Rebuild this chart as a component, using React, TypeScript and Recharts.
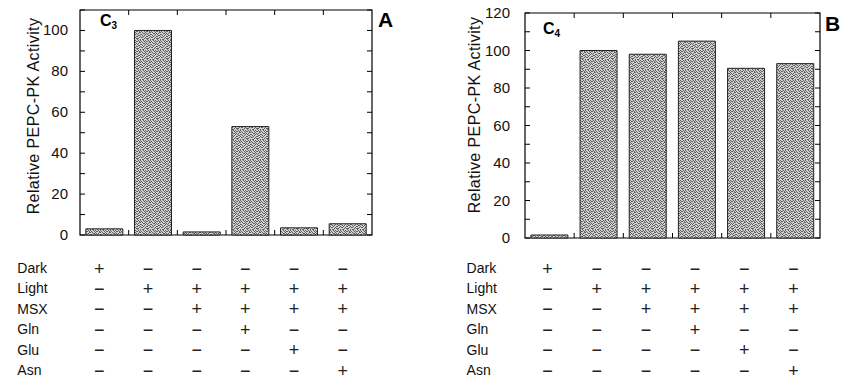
import React from 'react';
import { BarChart, Bar, XAxis, YAxis, ReferenceArea } from 'recharts';

const treatments = ['Dark', 'Light', 'Light+MSX', 'Light+MSX+Gln', 'Light+MSX+Glu', 'Light+MSX+Asn'];
const c3Activity = [3, 100, 1.5, 53, 3.5, 5.5];
const c4Activity = [1.6, 100, 98, 105, 90.5, 93];

const rowLabels = ['Dark', 'Light', 'MSX', 'Gln', 'Glu', 'Asn'];
const darkRow = ['+', '-', '-', '-', '-', '-'];
const lightRow = ['-', '+', '+', '+', '+', '+'];
const msxRow = ['-', '-', '+', '+', '+', '+'];
const glnRow = ['-', '-', '-', '+', '-', '-'];
const gluRow = ['-', '-', '-', '-', '+', '-'];
const asnRow = ['-', '-', '-', '-', '-', '+'];
const tableRows = [darkRow, lightRow, msxRow, glnRow, gluRow, asnRow];

// every 10 gets a tick mark, every 20 a label
const c3Ticks = [0, 10, 20, 30, 40, 50, 60, 70, 80, 90, 100, 110];
const c3LabelMax = 100;
const c4Ticks = [0, 10, 20, 30, 40, 50, 60, 70, 80, 90, 100, 110, 120];
const c4LabelMax = 120;

const FONT = '"Liberation Sans", Arial, Helvetica, sans-serif';
const ROW_GAP = 20.4;
const W = 425;
const H = 388;
const XAXIS_H = 150;
const YAXIS_W = 60;
const TICK = 5;

const c3Data = treatments.map((t, i) => ({ name: t, value: c3Activity[i] }));
const c4Data = treatments.map((t, i) => ({ name: t, value: c4Activity[i] }));

// speckle mask for the scanned-looking bar fill
const speckle = [
  '1001010010',
  '0100101101',
  '1010010001',
  '0001101010',
  '1100010100',
  '0010100011',
  '1001001100',
  '0110010001',
  '0000101110',
  '1011000100',
];

const TableTick = (props: any) => {
  const { x, y, payload, top, dx, labelDx, plotH } = props;
  const col = props.index ?? payload.index;
  const half = payload.offset ?? 0;
  return (
    <g>
      {col < tableRows[0].length - 1 && (
        <g stroke="#000" strokeWidth={1}>
          <line x1={x + half} x2={x + half} y1={y} y2={y - TICK} />
          <line x1={x + half} x2={x + half} y1={y - plotH} y2={y - plotH + TICK} />
        </g>
      )}
      {rowLabels.map((r, i) => {
        const cy = y + top + i * ROW_GAP;
        return (
          <g key={r}>
            {col === 0 && (
              <text x={x + labelDx} y={cy + 5} fontSize={14} fill="#111" fontFamily={FONT}>
                {r}
              </text>
            )}
            <text x={x + dx} y={cy + 6.5} fontSize={18} fill="#222" textAnchor="middle" fontFamily={FONT}>
              {tableRows[i][col] === '+' ? '+' : '\u2212'}
            </text>
          </g>
        );
      })}
    </g>
  );
};

const ValueTick = (props: any) => {
  const { x, y, payload, plotW, labelMax, gap } = props;
  const v = payload.value;
  return (
    <g>
      <g stroke="#000" strokeWidth={1}>
        <line x1={x} x2={x + TICK} y1={y} y2={y} />
        <line x1={x + plotW - TICK} x2={x + plotW} y1={y} y2={y} />
      </g>
      {v % 20 === 0 && v <= labelMax && (
        <text x={x - gap} y={y + 5} textAnchor="end" fontSize={15} fill="#111" fontFamily={FONT}>
          {v}
        </text>
      )}
    </g>
  );
};

interface PanelProps {
  data: { name: string; value: number }[];
  max: number;
  ticks: number[];
  labelMax: number;
  margin: { top: number; right: number; bottom: number; left: number };
  tableTop: number;
  symbolDx: number;
  labelDx: number;
  labelGap: number;
  yLabelX: number;
  yLabelY: number;
  sub: string;
  letter: string;
  letterX: number;
  letterY: number;
  speciesX: number;
  speciesY: number;
}

const Panel = (p: PanelProps) => {
  const plotW = W - p.margin.left - p.margin.right - YAXIS_W;
  const plotH = H - p.margin.top - p.margin.bottom - XAXIS_H;
  return (
    <div style={{ position: 'relative', width: W, height: H }}>
      <BarChart width={W} height={H} data={p.data} margin={p.margin} barCategoryGap="12%">
        <XAxis
          dataKey="name"
          height={XAXIS_H}
          tickLine={false}
          tickSize={0}
          tickMargin={0}
          interval={0}
          axisLine={false}
          tick={<TableTick top={p.tableTop} dx={p.symbolDx} labelDx={p.labelDx} plotH={plotH} />}
        />
        <YAxis
          width={YAXIS_W}
          domain={[0, p.max]}
          ticks={p.ticks}
          interval={0}
          tickLine={false}
          tickSize={0}
          tickMargin={0}
          axisLine={false}
          tick={<ValueTick plotW={plotW} labelMax={p.labelMax} gap={p.labelGap} />}
        />
        <ReferenceArea y1={0} y2={p.max} fill="none" stroke="#000" strokeWidth={1.2} />
        <Bar
          dataKey="value"
          fill="url(#stipple)"
          stroke="#222"
          strokeWidth={1}
          isAnimationActive={false}
        />
      </BarChart>
      <div
        style={{
          position: 'absolute',
          left: p.yLabelX,
          top: p.yLabelY,
          transform: 'translate(-50%, -50%) rotate(-90deg)',
          whiteSpace: 'nowrap',
          fontFamily: FONT,
          fontSize: 16,
          letterSpacing: 0.4,
          color: '#111',
        }}
      >
        Relative PEPC-PK Activity
      </div>
      <div
        style={{
          position: 'absolute',
          left: p.speciesX,
          top: p.speciesY,
          fontFamily: FONT,
          fontWeight: 'bold',
          fontSize: 16,
          color: '#000',
        }}
      >
        C<span style={{ fontSize: 10, verticalAlign: -3 }}>{p.sub}</span>
      </div>
      <div
        style={{
          position: 'absolute',
          left: p.letterX,
          top: p.letterY,
          fontFamily: FONT,
          fontWeight: 900,
          fontSize: 21,
          color: '#000',
        }}
      >
        {p.letter}
      </div>
    </div>
  );
};

export default function App() {
  return (
    <div style={{ position: 'absolute', left: 0, top: 0, width: 850, height: 388, background: '#fff' }}>
      <svg width={0} height={0} style={{ position: 'absolute' }}>
        <defs>
          <pattern id="stipple" width={10} height={10} patternUnits="userSpaceOnUse">
            <rect width={10} height={10} fill="#d2d2d2" />
            {speckle.map((row, j) =>
              row.split('').map((c, i) =>
                c === '1' ? <rect key={`${i}-${j}`} x={i} y={j} width={1} height={1} fill="#616161" /> : null
              )
            )}
          </pattern>
        </defs>
      </svg>
      <div style={{ display: 'flex' }}>
        <Panel
          data={c3Data}
          max={110}
          ticks={c3Ticks}
          labelMax={c3LabelMax}
          margin={{ top: 10, right: 53, bottom: 3, left: 20 }}
          tableTop={33}
          symbolDx={-5}
          labelDx={-87}
          labelGap={12}
          yLabelX={34}
          yLabelY={116}
          sub="3"
          letter="A"
          letterX={378}
          letterY={8}
          speciesX={100}
          speciesY={12}
        />
        <Panel
          data={c4Data}
          max={120}
          ticks={c4Ticks}
          labelMax={c4LabelMax}
          margin={{ top: 13, right: 30, bottom: 0, left: 40 }}
          tableTop={30}
          symbolDx={-2}
          labelDx={-83}
          labelGap={15}
          yLabelX={50}
          yLabelY={115}
          sub="4"
          letter="B"
          letterX={400}
          letterY={12}
          speciesX={118}
          speciesY={20}
        />
      </div>
    </div>
  );
}
